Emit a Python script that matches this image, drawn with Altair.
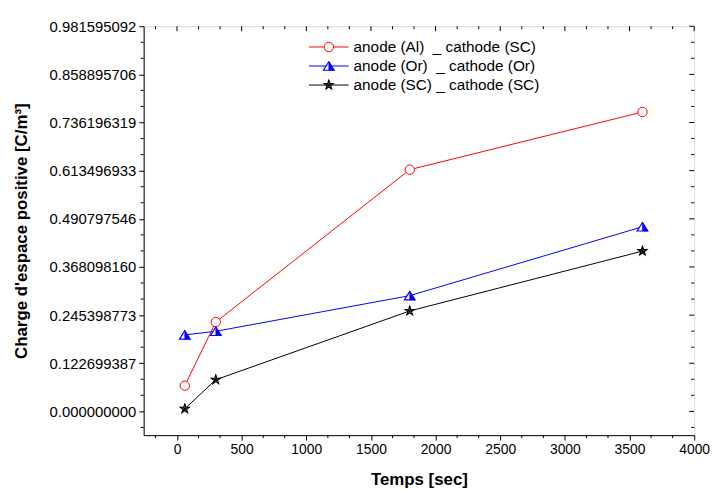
import altair as alt
import pandas as pd

# ---------------- data ----------------
times = [60, 300, 1800, 3600]
series_names = [
    "anode (Al)\u00a0 _ cathode (SC)",
    "anode (Or)\u00a0 _ cathode (Or)",
    "anode (SC) _ cathode (SC)",
]
charge_al_sc = [0.0656, 0.2277, 0.616, 0.763]
charge_or_or = [0.1949, 0.2042, 0.295, 0.4705]
charge_sc_sc = [0.0066, 0.0807, 0.256, 0.4085]
series_colors = ["#ff0000", "#0000ff", "#000000"]

x_tick_values = [0, 500, 1000, 1500, 2000, 2500, 3000, 3500, 4000]
y_tick_labels = [
    "0.000000000", "0.122699387", "0.245398773", "0.368098160",
    "0.490797546", "0.613496933", "0.736196319", "0.858895706", "0.981595092",
]
y_tick_values = [float(s) for s in y_tick_labels]

x_domain = [-258, 4000]
y_domain = [-0.0605, 0.981595092]

# ---------------- tables ----------------
rows = []
for name, vals in zip(series_names, [charge_al_sc, charge_or_or, charge_sc_sc]):
    for t, v in zip(times, vals):
        rows.append({"series": name, "t": t, "q": v})
df = pd.DataFrame(rows)

ystep = y_tick_values[1] - y_tick_values[0]
xstep = x_tick_values[1] - x_tick_values[0]
y_minor = [v + k * ystep / 3 for v in [y_tick_values[0] - ystep] + y_tick_values for k in (1, 2)]
y_minor = [v for v in y_minor if y_domain[0] <= v <= y_domain[1]]
x_minor = [v + k * xstep / 3 for v in [x_tick_values[0] - xstep] + x_tick_values for k in (1, 2)]
x_minor = [v for v in x_minor if x_domain[0] <= v <= x_domain[1]]

ymaj_df = pd.DataFrame({"t": [0] * len(y_tick_values), "q": y_tick_values})
ymin_df = pd.DataFrame({"t": [0] * len(y_minor), "q": y_minor})
xmaj_df = pd.DataFrame({"t": x_tick_values, "q": [0] * len(x_tick_values)})
xmin_df = pd.DataFrame({"t": x_minor, "q": [0] * len(x_minor)})
leg_df = pd.DataFrame({"series": series_names, "row": [0, 1, 2]})

W, H = 556, 413
FONT = "Liberation Sans"

xscale = alt.Scale(domain=x_domain, nice=False, zero=False)
yscale = alt.Scale(domain=y_domain, nice=False, zero=False)
cscale = alt.Scale(domain=series_names, range=series_colors)

x_axis = alt.Axis(
    values=x_tick_values, format="d", tickSize=5, labelPadding=3, labelFont=FONT, labelFontSize=14,
    labelFlush=False, labelOverlap=False, grid=False,
    title="Temps [sec]", titleFont=FONT, titleFontSize=17, titleFontWeight="bold",
    titleX=W / 2, titleY=45, titleAlign="center", titleBaseline="middle",
    domainColor="black", tickColor="black", labelColor="black", titleColor="black",
)
y_axis = alt.Axis(
    values=y_tick_values, format=".9f", tickSize=5, labelPadding=3, labelFont=FONT,
    labelFontSize=15, labelFlush=False, labelOverlap=False, grid=False,
    title="Charge d'espace positive [C/m³]", titleFont=FONT, titleFontSize=17,
    titleFontWeight="bold", titleX=-123, titleY=H / 2, titleAngle=270,
    titleAlign="center", titleBaseline="middle",
    domainColor="black", tickColor="black", labelColor="black", titleColor="black",
)

X = alt.X("t:Q", scale=xscale, axis=x_axis)
Y = alt.Y("q:Q", scale=yscale, axis=y_axis)

base = alt.Chart(df)
lines = base.mark_line(strokeWidth=1).encode(
    x=X, y=Y,
    color=alt.Color("series:N", scale=cscale, legend=None),
    detail="series:N",
)

TRI = "M0,-0.8L1,0.8L-1,0.8Z"
TRI_HALF = "M0,-0.8L1,0.8L0,0.8Z"
STAR = ("M0,-1L0.24,-0.33L0.95,-0.31L0.38,0.12L0.59,0.81L0,0.4L-0.59,0.81"
        "L-0.38,0.12L-0.95,-0.31L-0.24,-0.33Z")
STAR_IN = "M0,-1L0,0.4M0.95,-0.31L-0.38,0.12M0.59,0.81L-0.24,-0.33M-0.59,0.81L0.24,-0.33M-0.95,-0.31L0.38,0.12"

def pts(idx, **mk):
    return base.transform_filter(alt.datum.series == series_names[idx]).mark_point(
        opacity=1, **mk
    ).encode(x=X, y=Y)

red_pts = pts(0, shape="circle", size=90, filled=True, fill="white", stroke="#ff0000", strokeWidth=1)
blue_out = pts(1, shape=TRI, size=115, filled=True, fill="white", stroke="#0000ff", strokeWidth=1.2)
blue_half = pts(1, shape=TRI_HALF, size=115, filled=True, fill="#0000ff", stroke="#0000ff", strokeWidth=0.6)
blk_star = pts(2, shape=STAR, size=95, filled=True, fill="white", stroke="black", strokeWidth=1.1)
blk_in = pts(2, shape=STAR_IN, size=95, filled=False, stroke="black", strokeWidth=0.9)

# ---------------- ticks (minor + mirrored) ----------------
def yticks(df_, x0, x1):
    return alt.Chart(df_).mark_rule(color="black", strokeWidth=1).encode(
        y=Y, x=alt.value(x0), x2=alt.value(x1)
    )

def xticks(df_, y0, y1):
    return alt.Chart(df_).mark_rule(color="black", strokeWidth=1).encode(
        x=X, y=alt.value(y0), y2=alt.value(y1)
    )

tick_layers = [
    yticks(ymin_df, -3, 0),
    yticks(ymaj_df, W - 5, W),
    yticks(ymin_df, W - 3, W),
    xticks(xmin_df, H, H + 3),
    xticks(xmaj_df, 0, 5),
    xticks(xmin_df, 0, 3),
]

# ---------------- legend ----------------
leg = alt.Chart(leg_df).transform_calculate(py="21 + 19.2 * datum.row")
leg_y = alt.Y("py:Q", scale=None)
leg_lines = leg.mark_rule(strokeWidth=1).encode(
    y=leg_y, x=alt.value(167), x2=alt.value(207),
    color=alt.Color("series:N", scale=cscale, legend=None),
)
leg_text = leg.mark_text(align="left", baseline="middle", font=FONT, fontSize=15.5, color="black").encode(
    y=leg_y, x=alt.value(212), text="series:N"
)

def leg_pt(idx, **mk):
    return leg.transform_filter(alt.datum.row == idx).mark_point(opacity=1, **mk).encode(
        y=leg_y, x=alt.value(187)
    )

leg_marks = [
    leg_pt(0, shape="circle", size=90, filled=True, fill="white", stroke="#ff0000", strokeWidth=1),
    leg_pt(1, shape=TRI, size=115, filled=True, fill="white", stroke="#0000ff", strokeWidth=1.2),
    leg_pt(1, shape=TRI_HALF, size=115, filled=True, fill="#0000ff", stroke="#0000ff", strokeWidth=0.6),
    leg_pt(2, shape=STAR, size=95, filled=True, fill="white", stroke="black", strokeWidth=1.1),
    leg_pt(2, shape=STAR_IN, size=95, filled=False, stroke="black", strokeWidth=0.9),
]

chart = alt.layer(
    lines, red_pts, blue_out, blue_half, blk_star, blk_in,
    *tick_layers, leg_lines, *leg_marks, leg_text,
).properties(
    width=W, height=H,
    padding={"left": 137, "top": 16, "right": 18, "bottom": 54},
    autosize=alt.AutoSizeParams(type="none"),
).configure_view(
    stroke="black", strokeWidth=1
).configure(background="white")

chart.save("out.html", embed_options={"renderer": "svg", "actions": False})
